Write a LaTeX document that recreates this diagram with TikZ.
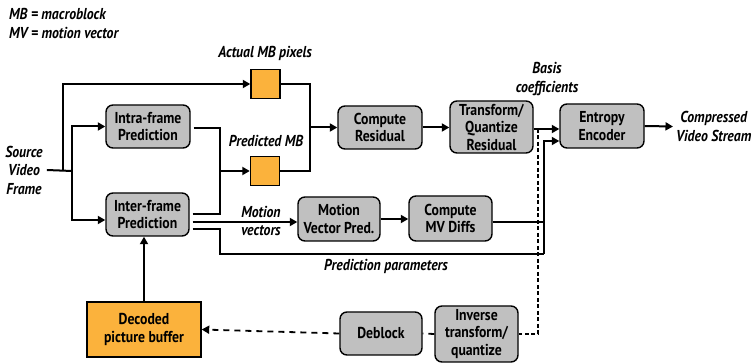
\documentclass[tikz,border=0pt]{standalone}
\usepackage{fontspec}
\setmainfont{PT Sans}[FakeStretch=0.87]
\usetikzlibrary{arrows.meta,calc}
\definecolor{boxgray}{RGB}{192,192,192}
\definecolor{mborange}{RGB}{251,178,60}
\begin{document}
\begin{tikzpicture}[x=1pt,y=-1pt,
  font=\fontsize{15.8}{17.5}\selectfont\bfseries,
  proc/.style={draw=black,line width=1.4pt,fill=boxgray,rounded corners=7pt,
    align=center,inner sep=0pt},
  mbbox/.style={draw=black,line width=1.4pt,fill=mborange,minimum size=29pt,inner sep=0pt},
  lbl/.style={align=center,font=\fontsize{15.8}{18.5}\selectfont\bfseries\itshape,inner sep=0pt},
  wire/.style={line width=2pt},
  arr/.style={wire,-{Triangle[length=7.5pt,width=8pt]}},
  fdash/.style={line width=1.8pt,dash pattern=on 4pt off 2.5pt},
  bdash/.style={line width=1.8pt,dash pattern=on 6pt off 5pt}]
\useasboundingbox (0,0) rectangle (753,363);

% legend
\node[lbl,anchor=west] at (9,14) {MB = macroblock};
\node[lbl,anchor=west] at (9,33) {MV = motion vector};

% processing blocks
\node[proc,minimum width=84pt,minimum height=43pt] (intra) at (148,126.5) {Intra-frame\\Prediction};
\node[proc,minimum width=83pt,minimum height=43pt] (inter) at (147.5,214.5) {Inter-frame\\Prediction};
\node[proc,minimum width=84pt,minimum height=43pt] (resid) at (380,127.5) {Compute\\Residual};
\node[proc,minimum width=83pt,minimum height=52pt] (xform) at (491.5,127) {Transform/\\Quantize\\Residual};
\node[proc,minimum width=84pt,minimum height=44pt] (entropy) at (602,126) {Entropy\\Encoder};
\node[proc,minimum width=82pt,minimum height=44pt] (mvp) at (339,219) {Motion\\Vector Pred.};
\node[proc,minimum width=83pt,minimum height=45pt] (mvd) at (450.5,218.5) {Compute\\MV Diffs};
\node[proc,minimum width=82pt,minimum height=43pt] (deblock) at (381,333.5) {Deblock};
\node[proc,minimum width=83pt,minimum height=56pt] (inv) at (476.5,334) {Inverse\\transform/\\quantize};
\node[draw=black,line width=1.4pt,fill=mborange,minimum width=114pt,minimum height=55pt,
  align=center,inner sep=0pt] (dpb) at (144,329.5) {Decoded\\picture buffer};

% macroblock squares
\node[mbbox] (amb) at (265.5,84) {};
\node[mbbox] (pmb) at (265,171) {};
\node[lbl] (amblbl) at (265,53) {Actual MB pixels};
\node[lbl] (pmblbl) at (266,141) {Predicted MB};

% source and sink
\node[lbl] (src) at (24,170) {Source\\Video\\Frame};
\node[lbl,anchor=west] (out) at (676,126.5) {Compressed\\Video Stream};

% other labels
\node[lbl] (basis) at (547,79) {Basis\\coefficients};
\node[lbl] (mvlbl) at (261,221) {Motion\\vectors};
\node[lbl] (pplbl) at (386,266) {Prediction parameters};

% junction points
\coordinate (j0) at (63,171);
\coordinate (j1) at (72,171);
\coordinate (m1) at (220,171);
\coordinate (m2) at (310,127.5);
\coordinate (pc) at (220,254);
\coordinate (c1) at (544,254);
\coordinate (d0) at (538,129);

% source fan-out
\draw[wire] ([xshift=4pt]src.east) -- (j1);
\draw[arr] (j0) |- (amb.west);
\draw[arr] (j1) |- (intra.west);
\draw[arr] (j1) |- ([yshift=-5.5pt]inter.west);

% predictions merge into predicted MB
\draw[wire] ([xshift=3pt,yshift=-1.5pt]intra.east) -| (m1);
\draw[wire] ([xshift=3pt]inter.east) -| (m1);
\draw[arr] (m1) -- (pmb.west);

% residual path
\draw[wire] (amb.east) -| (m2);
\draw[wire] (pmb.east) -| (m2);
\draw[arr] (m2) -- (resid.west);
\draw[arr] (resid.east) -- (resid.east -| xform.west);
\draw[arr] ([yshift=-2pt]xform.east) -- ([yshift=-2pt]xform.east -| entropy.west);
\draw[arr] (entropy.east) -- ([xshift=-3pt]out.west);

% motion vector path
\draw[arr] ([xshift=3pt,yshift=-7.5pt]inter.east) -- ([yshift=-7.5pt]inter.east -| mvp.west);
\draw[arr] (mvp.east) -- (mvp.east -| mvd.west);
\draw[wire] ([yshift=-3.5pt]mvd.east) -- ([yshift=-3.5pt]mvd.east -| c1);

% prediction parameters to entropy encoder
\draw[wire] ([xshift=3pt,yshift=-14.5pt]inter.east) -| (pc) -- (c1);
\draw[arr] (c1) |- ([yshift=-15pt]entropy.west);

% reconstruction loop
\draw[fdash] (d0) |- (inv.east);
\draw[bdash] (inv.west) -- (deblock.east);
\draw[bdash,-{Triangle[length=7.5pt,width=8pt]}] (deblock.west) -- (dpb.east);
\draw[arr] (dpb.north) -- (dpb.north |- inter.south);
\end{tikzpicture}
\end{document}
